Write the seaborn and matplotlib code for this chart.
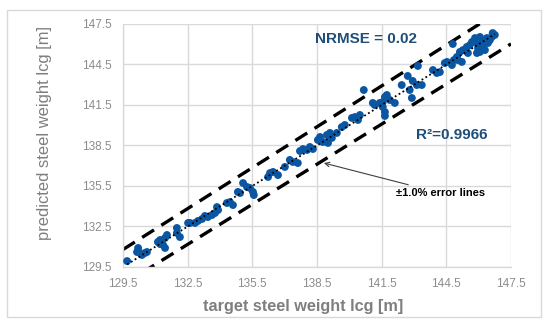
import matplotlib
matplotlib.use("Agg")
import matplotlib.pyplot as plt
import matplotlib.patches as mpatches
import numpy as np
import pandas as pd
import seaborn as sns

# ---- data ----
target = [129.69, 130.15, 130.20, 130.29, 130.38, 130.52, 130.61, 131.12, 131.22, 131.22,
          131.36, 131.45, 131.54, 131.45, 132.00, 132.00, 132.14, 132.52, 132.61, 132.84,
          132.98, 133.17, 133.30, 133.44, 133.63, 133.77, 133.86, 133.91, 134.32, 134.46,
          134.60, 134.83, 134.93, 135.07, 135.25, 135.39, 135.53, 135.57, 136.23, 136.32,
          136.46, 136.69, 137.01, 137.24, 137.38, 137.61, 137.71, 137.85, 138.04, 138.17,
          138.31, 138.54, 138.64, 138.77, 138.96, 139.10, 139.19, 139.01, 139.42, 139.65,
          139.79, 140.12, 140.26, 140.40, 140.49, 140.67, 141.09, 141.18, 141.41, 141.55,
          141.65, 141.74, 141.55, 141.65, 141.65, 141.88, 142.11, 142.43, 142.71, 142.94,
          143.13, 143.36, 142.80, 142.90, 143.18, 143.88, 144.06, 144.20, 144.43, 144.53,
          144.76, 144.85, 144.99, 145.13, 145.27, 145.45, 145.50, 145.69, 145.83, 145.92,
          145.97, 146.06, 146.15, 146.20, 146.29, 146.38, 146.52, 146.61, 146.65, 146.75,
          146.06, 145.92, 144.80, 145.22, 145.03, 145.59, 146.43]
predicted = [129.94, 130.61, 130.91, 130.54, 130.39, 130.54, 130.61, 131.35, 131.50, 131.20,
             131.13, 130.91, 131.87, 131.65, 132.39, 132.02, 131.72, 132.76, 132.76, 132.76,
             132.91, 133.06, 133.28, 133.20, 133.35, 133.50, 133.94, 133.72, 134.24, 134.31,
             134.09, 135.06, 134.98, 135.72, 135.43, 135.35, 135.06, 134.83, 136.17, 136.46,
             136.54, 136.31, 136.91, 137.43, 137.28, 137.20, 138.09, 138.24, 138.17, 138.39,
             138.24, 138.91, 139.13, 138.76, 139.28, 139.43, 139.06, 138.69, 139.43, 139.87,
             140.02, 140.54, 140.61, 140.39, 140.76, 142.61, 141.65, 141.50, 141.65, 141.72,
             142.09, 142.24, 141.35, 140.98, 140.69, 141.87, 141.65, 142.98, 143.65, 143.28,
             142.98, 142.98, 142.61, 142.02, 144.39, 144.09, 143.87, 143.94, 144.61, 144.69,
             144.46, 144.83, 145.06, 145.43, 145.57, 145.80, 145.35, 146.17, 146.46, 146.09,
             145.72, 146.54, 146.17, 145.94, 145.57, 146.46, 146.31, 146.54, 146.83, 146.69,
             145.43, 145.35, 146.02, 144.69, 144.83, 145.94, 146.09]

ticks = [129.5, 132.5, 135.5, 138.5, 141.5, 144.5, 147.5]
tick_labels = ["129.5", "132.5", "135.5", "138.5", "141.5", "144.5", "147.5"]
error_pct = 1.0
nrmse_text = "NRMSE = 0.02"
r2_text = "R\u00b2=0.9966"
error_text = "\u00b11.0% error lines"
xlabel = "target steel weight lcg [m]"
ylabel = "predicted steel weight lcg [m]"

df = pd.DataFrame({"target": target, "predicted": predicted})

sns.set_theme(style="white")
plt.rcParams["font.family"] = ["Liberation Sans", "DejaVu Sans"]

fig = plt.figure(figsize=(5.5, 3.26), dpi=100)
ax = fig.add_axes([123 / 550, 1 - 267 / 326, (511 - 123) / 550, (267 - 24) / 326])

# outer chart border
fig.patches.append(mpatches.Rectangle((7 / 550, 1 - 317 / 326), (541 - 7) / 550, (317 - 10) / 326,
                                      transform=fig.transFigure, fill=False,
                                      edgecolor="#D9D9D9", linewidth=1.0))

lo, hi = ticks[0], ticks[-1]
xs = np.array([lo, hi])
f = error_pct / 100.0
ax.plot(xs, xs * (1 + f), color="black", lw=2.4, dashes=(4.2, 2.6), zorder=2)
ax.plot(xs, xs * (1 - f), color="black", lw=2.4, dashes=(4.2, 2.6), zorder=2)

sns.scatterplot(data=df, x="target", y="predicted", ax=ax, s=32, color="#0B56A3",
                edgecolor="none", linewidth=0, zorder=3)

xr = np.array([min(target), max(target)])
ax.plot(xr, xr, color="black", lw=1.3, linestyle=(0, (1, 1.5)), zorder=4)

ax.set_xlim(lo, hi)
ax.set_ylim(lo, hi)
ax.set_xticks(ticks)
ax.set_yticks(ticks)
ax.set_xticklabels(tick_labels)
ax.set_yticklabels(tick_labels)
ax.tick_params(axis="both", length=0, labelsize=8.5, labelcolor="#8C8C8C", pad=8)
ax.grid(True, color="#D9D9D9", lw=1.0)
ax.set_axisbelow(True)
for s in ["top", "right"]:
    ax.spines[s].set_visible(False)
for s in ["left", "bottom"]:
    ax.spines[s].set_color("#D9D9D9")
    ax.spines[s].set_linewidth(1.0)

ax.set_xlabel(xlabel, fontsize=11.7, fontweight="bold", color="#7F7F7F")
ax.set_ylabel(ylabel, fontsize=11.9, fontweight="normal", color="#7F7F7F")
ax.xaxis.set_label_coords((303 - 123) / 388, (267 - 306) / 243)
ax.yaxis.set_label_coords((45 - 123) / 388, (267 - 133) / 243)
ax.xaxis.label.set_va("center")
ax.yaxis.label.set_va("center")

ax.text(138.4, 146.39, nrmse_text, fontsize=11, fontweight="bold", color="#1F4E79",
        ha="left", va="center")
ax.text(143.08, 139.28, r2_text, fontsize=11, fontweight="bold", color="#1F4E79",
        ha="left", va="center")
ax.annotate(error_text, xy=(138.82, 137.20), xytext=(142.16, 134.98),
            fontsize=8, fontweight="bold", color="black", ha="left", va="center",
            arrowprops=dict(arrowstyle="->", color="#404040", lw=0.8, shrinkA=0, shrinkB=0))

fig.savefig("out.png", dpi=100)
